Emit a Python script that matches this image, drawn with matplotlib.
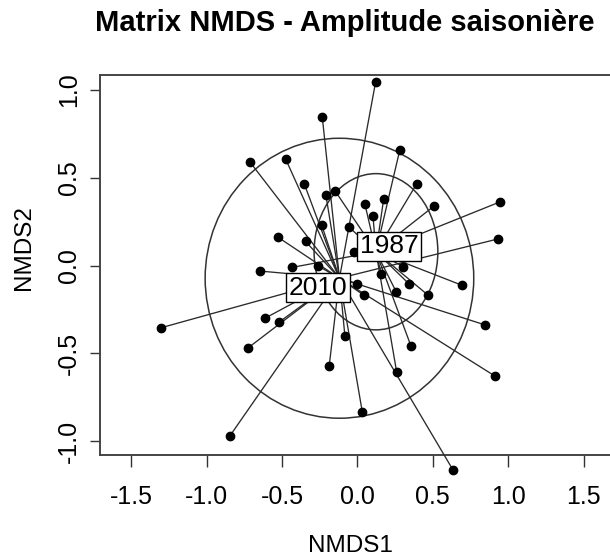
import matplotlib

matplotlib.use("Agg")
import matplotlib.pyplot as plt
from matplotlib.patches import Ellipse

plt.rcParams["font.family"] = ["Liberation Sans", "DejaVu Sans"]
plt.rcParams["axes.unicode_minus"] = False

# Edit here.
OUT = "out.png"
TITLE = "Matrix NMDS - Amplitude saisonière"
X_LABEL = "NMDS1"
Y_LABEL = "NMDS2"

GROUPS = ["1987", "2010"]

# site scores
X_1987 = [0.281, -0.149, 0.050, 0.174, 0.103, 0.392, 0.509, 0.948, -0.054, -0.025,
          -0.432, 0.303, 0.158, 0.343, 0.257, 0.469, 0.690, 0.354, 0.260]
Y_1987 = [0.659, 0.427, 0.349, 0.379, 0.284, 0.465, 0.340, 0.364, 0.218, 0.077,
          -0.010, -0.006, -0.048, -0.105, -0.149, -0.169, -0.111, -0.456, -0.605]

X_2010 = [0.121, -0.233, -0.712, -0.475, -0.352, -0.209, 0.932, -0.237, -0.525, -0.344,
          -0.646, -0.260, -0.001, 0.041, 0.846, 0.911, 0.634, -0.083, -0.187, 0.032,
          -0.613, -0.518, -0.728, -0.844, -1.301]
Y_2010 = [1.048, 0.848, 0.590, 0.606, 0.465, 0.402, 0.152, 0.231, 0.161, 0.138,
          -0.031, -0.002, -0.103, -0.168, -0.338, -0.629, -1.165, -0.401, -0.572, -0.832,
          -0.300, -0.321, -0.471, -0.969, -0.354]

# spider centres, label positions and ellipse sizes per group
CENTER_X = [0.123, -0.119]
CENTER_Y = [0.079, -0.072]
LABEL_X = [0.211, -0.263]
LABEL_Y = [0.110, -0.125]
ELL_W = [0.82, 1.78]
ELL_H = [0.89, 1.595]

X_TICKS = [-1.5, -1.0, -0.5, 0.0, 0.5, 1.0, 1.5]
Y_TICKS = [-1.0, -0.5, 0.0, 0.5, 1.0]


def main():
    fig = plt.figure(figsize=(6.1, 5.6), dpi=100)
    ax = fig.add_axes([0.1639, 0.1875, 0.8475, 0.6786])
    ax.set_xlim(-1.706, 1.72)
    ax.set_ylim(-1.079, 1.086)

    xs_all = [X_1987, X_2010]
    ys_all = [Y_1987, Y_2010]
    for i, grp in enumerate(GROUPS):
        cx, cy = CENTER_X[i], CENTER_Y[i]
        ax.add_patch(Ellipse((cx, cy), ELL_W[i], ELL_H[i], fill=False,
                             ec="#333333", lw=1.1, zorder=2))
        for x, y in zip(xs_all[i], ys_all[i]):
            ax.plot([cx, x], [cy, y], color="#2a2a2a", lw=0.95, zorder=3,
                    clip_on=False)
        ax.plot(xs_all[i], ys_all[i], "o", color="black", ms=6, zorder=4,
                clip_on=False)
        ax.text(LABEL_X[i], LABEL_Y[i], grp, ha="center", va="center",
                fontsize=19, zorder=6,
                bbox=dict(boxstyle="square,pad=0.1", fc="white", ec="black",
                          lw=1.0))

    ax.set_xticks(X_TICKS)
    ax.set_xticklabels([f"{t:.1f}" for t in X_TICKS])
    ax.set_yticks(Y_TICKS)
    ax.set_yticklabels([f"{t:.1f}" for t in Y_TICKS], rotation=90, va="center")
    ax.tick_params(axis="x", length=8.6, width=1.0, pad=13, labelsize=18,
                   color="#333333")
    ax.tick_params(axis="y", length=7.5, width=1.0, pad=6, labelsize=18,
                   color="#333333")
    for sp in ax.spines.values():
        sp.set_linewidth(1.4)
        sp.set_color("#444444")

    fig.text(345 / 610, 1 - 23 / 560, TITLE, ha="center", va="center",
             fontsize=21, fontweight="bold")
    fig.text(350 / 610, 1 - 546 / 560, X_LABEL, ha="center", va="center",
             fontsize=17.5)
    fig.text(24 / 610, 1 - 248 / 560, Y_LABEL, ha="center", va="center",
             fontsize=17.5, rotation=90)

    fig.savefig(OUT, dpi=100)


if __name__ == "__main__":
    main()
